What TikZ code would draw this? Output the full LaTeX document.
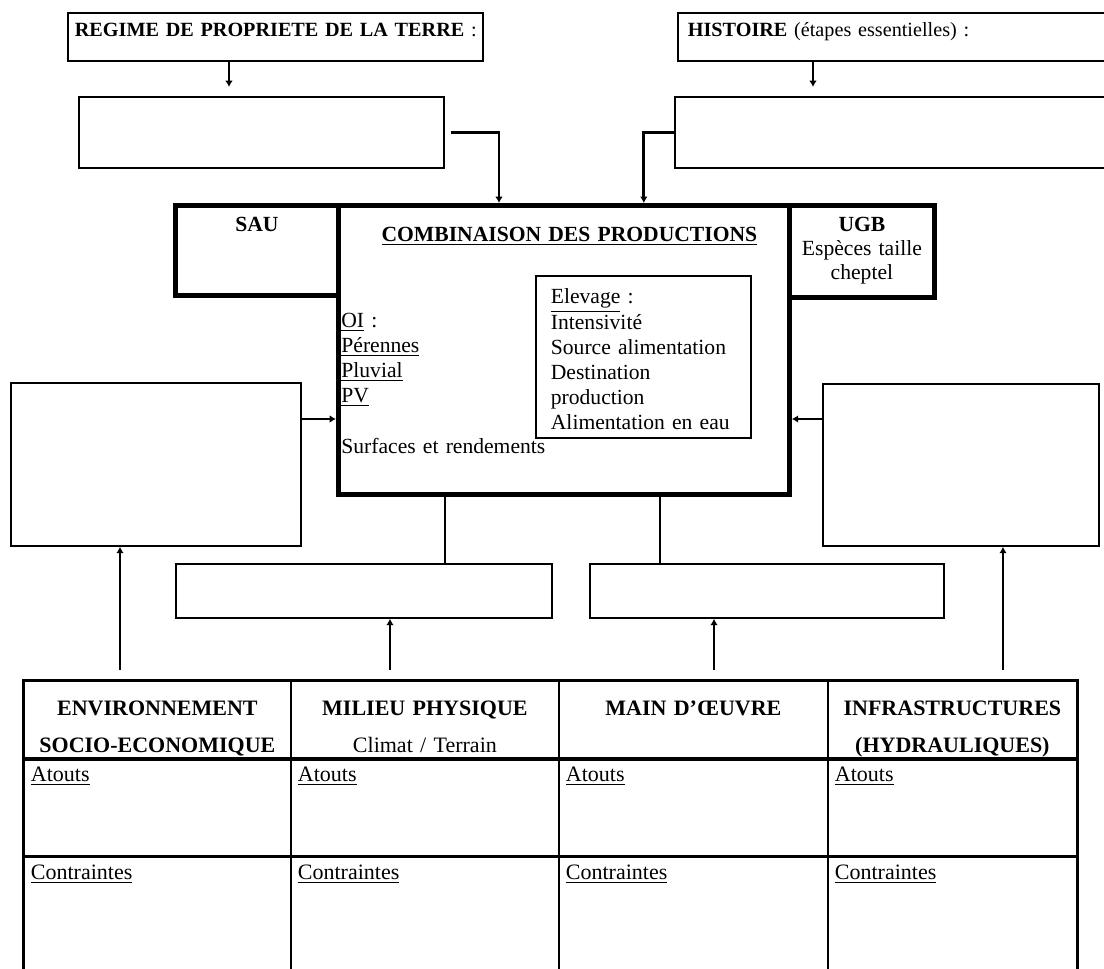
\documentclass[tikz,border=0pt]{standalone}
\usepackage{fontspec}
\setmainfont{Liberation Serif}
\usetikzlibrary{arrows.meta}

\tikzset{
  box/.style={draw, line width=0.9pt, inner sep=0pt, anchor=north west},
  heavy/.style={draw, line width=2.4pt, inner sep=0pt, anchor=north west},
  flow/.style={line width=1.4pt, -{Latex[length=3.2pt,width=3.8pt]}},
  link/.style={line width=1.4pt},
  frame/.style={line width=1.5pt},
  small/.style={font=\fontsize{10.1}{12}\selectfont},
  body/.style={font=\fontsize{10.8}{12.6}\selectfont},
  head/.style={draw, line width=0.9pt, inner sep=0pt, anchor=north west, align=center,
    font=\fontsize{11}{13}\bfseries, text height=17.5pt, text depth=21pt},
  slot/.style={draw, line width=0.9pt, anchor=north west, inner xsep=3.5pt, inner ysep=0pt,
    align=left, font=\fontsize{11}{13}\selectfont, text height=11pt},
}

\begin{document}
\begin{tikzpicture}[x=0.5pt, y=-0.5pt]

    \clip (0,0) rectangle (1104,969);

    % Define nodes
    \node[box, small, text width=200.5pt, inner xsep=3.5pt, align=left, text height=12pt, text depth=12pt]
      (regime) at (67,12) {\mbox{\textbf{REGIME DE PROPRIETE DE LA TERRE} :}};
    \node[box, small, text width=207.5pt, inner xsep=5pt, align=left, text height=12pt, text depth=12pt]
      (histoire) at (677,12) {\textbf{HISTOIRE} (étapes essentielles) :};
    \node[box, minimum width=182.5pt, minimum height=35.5pt] (regime-in)   at (78,96)   {};
    \node[box, minimum width=219pt,   minimum height=35.5pt] (histoire-in) at (674,96)  {};

    \node[heavy, body, text width=81.5pt, align=center, text height=13pt, text depth=32pt]
      (sau) at (173,203) {\textbf{SAU}};
    \node[heavy, body, text width=225.5pt, align=center, text height=18pt, text depth=126.5pt]
      (main) at (336,203) {\hspace*{5.5pt}\textbf{\underline{COMBINAISON DES PRODUCTIONS}}};
    \node[heavy, font=\fontsize{10.8}{12}\selectfont, text width=72.5pt, align=center, text height=13pt, text depth=33pt]
      (ugb) at (787,203) {\textbf{UGB}\\Espèces taille\\cheptel};
    \node[body, inner sep=0pt, anchor=base west, text width=105pt, align=left]
      (oi) at (341,327) {\underline{OI} :\\\underline{Pérennes}\\\underline{Pluvial}\\\underline{PV}\\[12.6pt]Surfaces et rendements};
    \node[box, body, text width=92.5pt, inner xsep=7.5pt, align=left, text height=14pt, text depth=67pt]
      (elevage) at (535,275) {\underline{Elevage} :\\Intensivité\\Source alimentation\\Destination\\production\\Alimentation en eau};

    \node[box, minimum width=145pt, minimum height=81.5pt] (lside)  at (10,382)  {};
    \node[box, minimum width=138pt, minimum height=81pt]   (rside)  at (822,383) {};
    \node[box, minimum width=188pt, minimum height=27pt]   (mleft)  at (175,563) {};
    \node[box, minimum width=177pt, minimum height=27pt]   (mright) at (589,563) {};

    % Table of factors
    \node[head, text width=133.5pt] (env-head) at (23,680)  {ENVIRONNEMENT\\[5.5pt]SOCIO-ECONOMIQUE};
    \node[head, text width=134pt]   (mil-head) at (290,680) {MILIEU PHYSIQUE\\[5.5pt]\mdseries Climat / Terrain};
    \node[head, text width=134.5pt] (mo-head)  at (558,680) {MAIN D’ŒUVRE};
    \node[head, text width=124.5pt] (inf-head) at (827,680) {INFRASTRUCTURES\\[5.5pt](HYDRAULIQUES)};

    \node[slot, text width=126.5pt, text depth=37pt] (env-atouts) at (env-head.south west) {\underline{Atouts}};
    \node[slot, text width=127pt,   text depth=37pt] (mil-atouts) at (mil-head.south west) {\underline{Atouts}};
    \node[slot, text width=127.5pt, text depth=37pt] (mo-atouts)  at (mo-head.south west)  {\underline{Atouts}};
    \node[slot, text width=117.5pt, text depth=37pt] (inf-atouts) at (inf-head.south west) {\underline{Atouts}};

    \node[slot, text width=126.5pt, text depth=54pt] (env-cont) at (env-atouts.south west) {\underline{Contraintes}};
    \node[slot, text width=127pt,   text depth=54pt] (mil-cont) at (mil-atouts.south west) {\underline{Contraintes}};
    \node[slot, text width=127.5pt, text depth=54pt] (mo-cont)  at (mo-atouts.south west)  {\underline{Contraintes}};
    \node[slot, text width=117.5pt, text depth=54pt] (inf-cont) at (inf-atouts.south west) {\underline{Contraintes}};

    \draw[frame] (env-cont.south west) -- (env-head.north west) -- (inf-head.north east) -- (inf-cont.south east);

    % Connect the nodes
    \coordinate (regime-out)   at ([xshift=81pt]regime.south west);
    \coordinate (histoire-out) at ([xshift=68pt]histoire.south west);
    \draw[flow, shorten >=4.5pt] (regime-out) -- (regime-out |- regime-in.north);
    \draw[flow, shorten >=4.5pt] (histoire-out) -- (histoire-out |- histoire-in.north);
    \draw[flow, shorten <=3pt] (regime-in.east) -| ([xshift=81.5pt]main.north west);
    \draw[flow] (histoire-in.west) -| ([xshift=-74pt]main.north east);

    \coordinate (lside-out) at ([yshift=-18.5pt]lside.north east);
    \coordinate (rside-out) at ([yshift=-18pt]rside.north west);
    \draw[flow] (lside-out) -- (lside-out -| main.west);
    \draw[flow] (rside-out) -- (rside-out -| main.east);

    \coordinate (mleft-top)  at ([xshift=135pt]mleft.north west);
    \coordinate (mright-top) at ([xshift=35.5pt]mright.north west);
    \draw[link] (mleft-top |- main.south) -- (mleft-top);
    \draw[link] (mright-top |- main.south) -- (mright-top);

    \coordinate (lside-in)  at ([xshift=55pt]lside.south west);
    \coordinate (rside-in)  at ([xshift=90.5pt]rside.south west);
    \coordinate (mleft-in)  at ([xshift=107.5pt]mleft.south west);
    \coordinate (mright-in) at ([xshift=62.5pt]mright.south west);
    \draw[flow, shorten <=5pt] (lside-in |- env-head.north) -- (lside-in);
    \draw[flow, shorten <=5pt] (mleft-in |- mil-head.north) -- (mleft-in);
    \draw[flow, shorten <=5pt] (mright-in |- mo-head.north) -- (mright-in);
    \draw[flow, shorten <=5pt] (rside-in |- inf-head.north) -- (rside-in);

\end{tikzpicture}
\end{document}
